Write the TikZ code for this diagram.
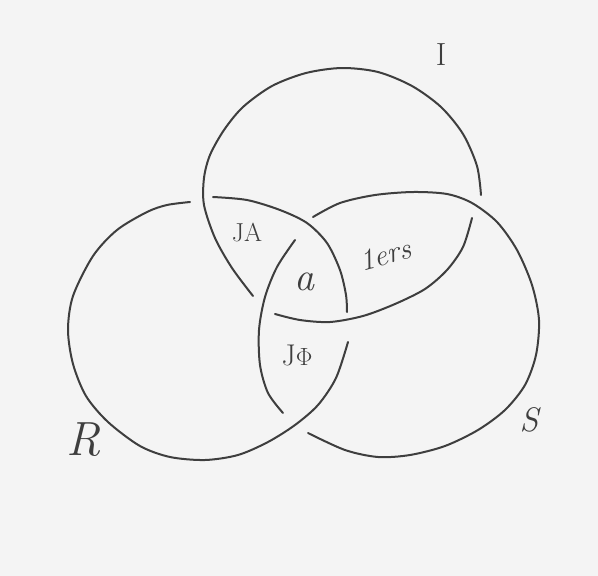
\documentclass[tikz,border=0pt]{standalone}
\usepackage{xcolor}
\usepackage{amsmath}
\usepackage{tikz}
\definecolor{pencil}{RGB}{62,62,62}
\definecolor{paper}{RGB}{244,244,244}

\begin{document}
\begin{tikzpicture}[x=1pt, y=-1pt,
    ring/.style={pencil, line width=2pt, line cap=round},
    lbl/.style={pencil, inner sep=0pt}]
  \fill[paper] (0,0) rectangle (598,576);
  % I (imaginaire), passe sous S
  \draw[ring] plot[smooth] coordinates {(253,296) (232,268) (215,238) (204,205)
    (204,178) (210,155) (224,130) (243,107) (272,86) (306,73) (342,68) (378,72)
    (412,86) (441,107) (463,134) (477,166) (481,195)};
  \draw[ring] plot[smooth] coordinates {(472,218) (463,247) (447,270) (425,289)
    (395,304) (363,316) (330,322) (300,320) (275,314)};
  % R (reel), passe sous I
  \draw[ring] plot[smooth] coordinates {(348,342) (336,378) (318,405) (295,425)
    (268,442) (238,455) (205,460) (170,457) (140,446) (108,422) (86,396) (73,364)
    (68,330) (73,296) (93,256) (117,230) (147,212) (167,205) (190,202)};
  \draw[ring] plot[smooth] coordinates {(213,197) (247,200) (280,210) (307,223)
    (327,243) (340,270) (346,295) (347,312)};
  % S (symbolique), passe sous R
  \draw[ring] plot[smooth] coordinates {(313,217) (340,203) (375,195) (413,192)
    (447,194) (472,203) (497,222) (517,250) (532,285) (539,320) (536,355)
    (525,385) (505,410) (478,430) (445,446) (410,455) (378,457) (345,450) (308,433)};
  \draw[ring] plot[smooth] coordinates {(295,240) (277,267) (265,297) (259,330)
    (260,365) (268,393) (283,413)};
  % noms des ronds
  \node[lbl, font=\fontsize{32}{34}\selectfont] (nI) at (441,55) {I};
  \node[lbl, font=\fontsize{48}{50}\selectfont\itshape] (nR) at (84,440) {R};
  \node[lbl, font=\fontsize{34}{36}\selectfont\itshape] (nS) at (529,420) {S};
  % zones
  \node[lbl, font=\fontsize{26}{28}\selectfont] (zJA) at (247,233) {JA};
  \node[lbl, font=\fontsize{40}{42}\selectfont\itshape] (za) at (304,282) {a};
  \node[lbl, font=\fontsize{30}{32}\selectfont\itshape, rotate=15] (zers) at (385,255) {1ers};
  \node[lbl, font=\fontsize{30}{32}\selectfont] (zJP) at (297,355) {J$\Phi$};
\end{tikzpicture}
\end{document}
